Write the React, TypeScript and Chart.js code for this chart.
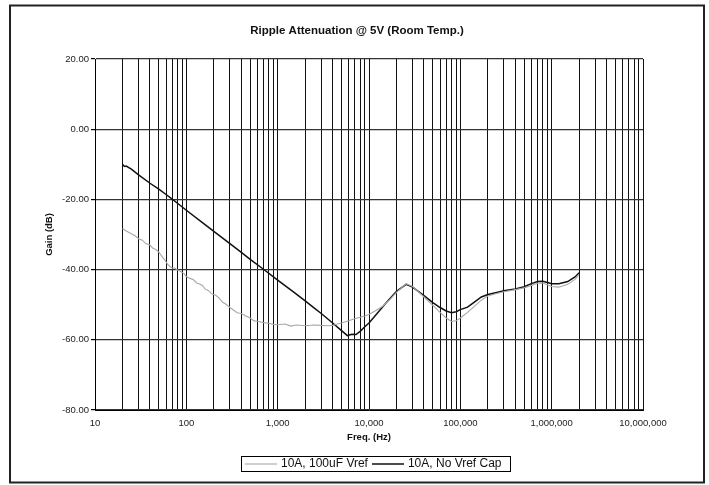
import React, { useEffect, useRef } from 'react';
import { Chart, registerables } from 'chart.js';

Chart.register(...registerables);

const chartTitle = 'Ripple Attenuation @ 5V (Room Temp.)';
const xAxisTitle = 'Freq. (Hz)';
const yAxisTitle = 'Gain (dB)';
const seriesNames = ['10A, 100uF Vref', '10A, No Vref Cap'];

const xTickValues = [10, 100, 1000, 10000, 100000, 1000000, 10000000];
const xTickLabels = ['10', '100', '1,000', '10,000', '100,000', '1,000,000', '10,000,000'];
const xGridMantissas = [1, 2, 3, 4, 5, 6, 7, 8, 9];
const yTickValues = [-80, -60, -40, -20, 0, 20];
const yTickLabels = ['-80.00', '-60.00', '-40.00', '-20.00', '0.00', '20.00'];

// 10A, 100uF Vref (gray)
const vrefFreq = [
  20, 22, 25, 28, 30, 33, 36, 40, 43, 46, 50, 55, 58, 62, 66, 70, 75, 80, 85, 90, 95,
  100, 110, 120, 130, 140, 150, 160, 175, 190, 210, 230, 250, 270, 300, 330, 360, 400,
  450, 500, 550, 600, 700, 800, 900, 1000, 1200, 1400, 1600, 2000, 2500, 3000, 3500,
  4000, 4500, 5000, 6000, 7000, 8000, 9000, 10000, 12000, 14000, 17000, 20000, 25500,
  30000, 40000, 50000, 60000, 70000, 80000, 90000, 100000, 120000, 140000, 170000,
  200000, 250000, 300000, 400000, 500000, 600000, 700000, 800000, 900000, 1000000,
  1200000, 1500000, 1800000, 2000000,
];
const vrefGain = [
  -28.3, -29.0, -29.8, -30.5, -31.2, -31.6, -32.6, -33.0, -33.9, -34.2, -35.0, -36.5,
  -37.2, -38.4, -39.1, -39.5, -39.6, -40.1, -40.4, -40.8, -41.2,
  -42.0, -42.5, -42.9, -43.8, -44.1, -44.5, -45.5, -46.0, -46.9, -47.3, -48.2, -49.3,
  -49.8, -50.8, -51.6, -52.3, -52.5,
  -53.2, -53.8, -54.6, -54.7, -55.1, -55.3, -55.6, -55.7, -55.5, -56.1, -55.8, -56.0,
  -55.8, -55.9, -56.0,
  -55.9, -55.5, -55.2, -54.6, -54.0, -53.6, -53.2, -52.8, -51.6, -50.5, -48.5, -46.5,
  -44.0,
  -44.8, -47.8, -50.2, -52.2, -53.8, -54.8, -54.6, -53.8, -52.2, -50.6, -48.7,
  -47.5, -46.8, -46.3, -45.7, -45.2, -44.5, -43.9, -43.8, -44.3, -44.8,
  -45.0, -44.2, -42.8, -41.4,
];

// 10A, No Vref Cap (black)
const noCapFreq = [
  20, 21, 22, 25, 30, 40, 50, 60, 70, 80, 100, 150, 200, 300, 400, 500, 700, 1000, 1500,
  2000, 2500, 3000, 4000, 5000, 5800, 6500, 7200, 8000, 9000, 10000, 12000, 15000,
  20000, 25500, 30000, 40000, 50000, 60000, 70000, 80000, 90000, 100000, 120000,
  140000, 170000, 200000, 250000, 300000, 400000, 500000, 600000, 700000, 800000,
  900000, 1000000, 1200000, 1500000, 1800000, 2000000,
];
const noCapGain = [
  -10.0, -10.6, -10.5, -11.4, -13.0, -15.4, -17.1, -18.6, -19.9, -21.1, -23.1, -26.6,
  -29.1, -32.6, -35.1, -37.1, -39.9, -43.0, -46.4,
  -48.9, -50.9, -52.5, -55.2, -57.4, -58.8, -58.4, -58.5, -57.6, -56.3, -55.2, -52.8,
  -49.8,
  -46.2, -44.2, -45.0, -47.4, -49.4, -50.8, -51.8, -52.3, -52.0, -51.4, -50.7,
  -49.4, -47.8, -47.1, -46.5, -46.0, -45.5, -44.9, -44.0, -43.4, -43.3,
  -43.7, -44.0, -44.0, -43.4, -42.1, -40.9,
];

const seriesColors = ['#a8a8a8', '#111111'];
const seriesWidths = [1.1, 1.5];

const FONT = "'Liberation Sans', Arial, sans-serif";

export default function App() {
  const canvasRef = useRef<HTMLCanvasElement | null>(null);

  useEffect(() => {
    const canvas = canvasRef.current;
    if (!canvas) return;

    const xGridValues: number[] = [];
    for (let d = 10; d < 10000000; d *= 10) {
      for (const m of xGridMantissas) xGridValues.push(m * d);
    }
    xGridValues.push(10000000);

    const decor = {
      id: 'decor',
      beforeDraw(chart: any) {
        const ctx = chart.ctx;
        ctx.save();
        ctx.fillStyle = '#ffffff';
        ctx.fillRect(0, 0, chart.width, chart.height);
        ctx.restore();
      },
      afterDraw(chart: any) {
        const ctx = chart.ctx;
        ctx.save();
        // outer frame
        ctx.strokeStyle = '#222222';
        ctx.lineWidth = 2;
        ctx.strokeRect(10, 5.5, 694, 477);
        // title
        ctx.fillStyle = '#111111';
        ctx.font = `bold 11.5px ${FONT}`;
        ctx.textAlign = 'center';
        ctx.textBaseline = 'middle';
        ctx.fillText(chartTitle, 357, 31);
        // legend
        ctx.lineWidth = 1;
        ctx.strokeStyle = '#000000';
        ctx.strokeRect(241.5, 456.5, 269, 15);
        ctx.font = `12px ${FONT}`;
        ctx.textAlign = 'left';
        let x = 245;
        const y = 464;
        seriesNames.forEach((name, i) => {
          ctx.strokeStyle = seriesColors[i];
          ctx.lineWidth = seriesWidths[i];
          ctx.beginPath();
          ctx.moveTo(x, y);
          ctx.lineTo(x + 32, y);
          ctx.stroke();
          ctx.fillStyle = '#111111';
          ctx.fillText(name, x + 36, y);
          x += 36 + ctx.measureText(name).width + 4;
        });
        ctx.restore();
      },
    };

    const chart = new Chart(canvas, {
      type: 'line',
      data: {
        datasets: [
          {
            label: seriesNames[0],
            data: vrefFreq.map((f, i) => ({ x: f, y: vrefGain[i] })),
            borderColor: seriesColors[0],
            borderWidth: seriesWidths[0],
            pointRadius: 0,
            tension: 0,
            fill: false,
          },
          {
            label: seriesNames[1],
            data: noCapFreq.map((f, i) => ({ x: f, y: noCapGain[i] })),
            borderColor: seriesColors[1],
            borderWidth: seriesWidths[1],
            pointRadius: 0,
            tension: 0,
            fill: false,
          },
        ],
      },
      options: {
        responsive: false,
        animation: false,
        devicePixelRatio: 1,
        layout: { padding: { left: 10, top: 59, right: 66, bottom: 0 } },
        plugins: {
          legend: { display: false },
          title: { display: false },
          tooltip: { enabled: false },
        },
        scales: {
          x: {
            type: 'logarithmic',
            min: 10,
            max: 10000000,
            afterBuildTicks: (scale: any) => {
              scale.ticks = xGridValues.map((v) => ({ value: v }));
            },
            afterFit: (scale: any) => {
              scale.height = 75;
            },
            ticks: {
              autoSkip: false,
              maxRotation: 0,
              minRotation: 0,
              padding: 8,
              color: '#222222',
              font: { family: FONT, size: 9.5 },
              callback: (value: any) => {
                const idx = xTickValues.indexOf(Number(value));
                return idx >= 0 ? xTickLabels[idx] : '';
              },
            },
            grid: {
              color: '#111111',
              lineWidth: 1,
              drawTicks: false,
            },
            border: { display: true, color: '#000000', width: 1 },
            title: {
              display: true,
              text: xAxisTitle,
              color: '#111111',
              font: { family: FONT, size: 9.5, weight: 'bold' },
              padding: { top: 0, bottom: 42 },
            },
          },
          y: {
            type: 'linear',
            min: -80,
            max: 20,
            afterFit: (scale: any) => {
              scale.width = 85;
            },
            ticks: {
              stepSize: 10,
              padding: 2,
              color: '#222222',
              font: { family: FONT, size: 9.5 },
              callback: (value: any) => {
                const idx = yTickValues.indexOf(Number(value));
                return idx >= 0 ? yTickLabels[idx] : '';
              },
            },
            grid: {
              color: (ctx: any) =>
                yTickValues.indexOf(ctx.tick?.value) >= 0 ? '#333333' : 'rgba(0,0,0,0)',
              lineWidth: 1.2,
              drawTicks: true,
              tickLength: 4,
              tickColor: (ctx: any) =>
                yTickValues.indexOf(ctx.tick?.value) >= 0 ? '#000000' : 'rgba(0,0,0,0)',
            },
            border: { display: true, color: '#000000', width: 1 },
            title: {
              display: true,
              text: yAxisTitle,
              color: '#111111',
              font: { family: FONT, size: 9.5, weight: 'bold' },
              padding: { top: 34, bottom: 0 },
            },
          },
        },
      },
      plugins: [decor],
    } as any);

    return () => chart.destroy();
  }, []);

  return (
    <div style={{ position: 'absolute', left: 0, top: 0, width: 709, height: 485 }}>
      <canvas ref={canvasRef} width={709} height={485} style={{ width: 709, height: 485, display: 'block' }} />
    </div>
  );
}
